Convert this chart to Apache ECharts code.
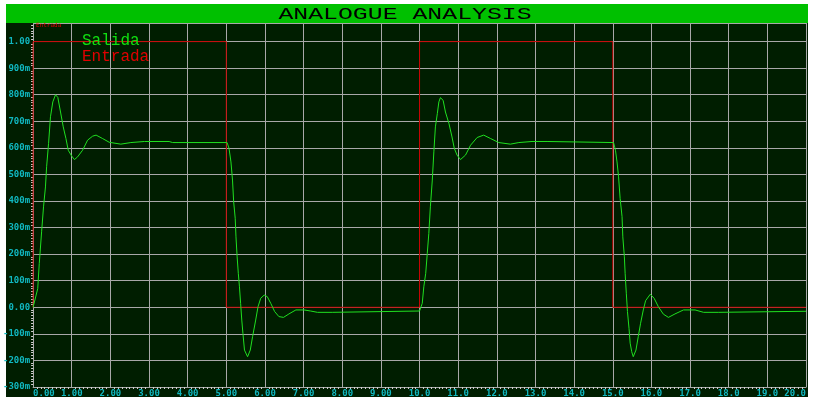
<!DOCTYPE html>
<html>
<head>
<meta charset="utf-8">
<script src="https://cdn.jsdelivr.net/npm/echarts@6/dist/echarts.min.js"></script>
<style>
  html, body { margin: 0; padding: 0; background: #fff; }
  #chart { width: 814px; height: 404px; }
</style>
</head>
<body>
<div id="chart"></div>
<script>
// Salida (output) trace
const salidaT = [
  0, 0.03, 0.12, 0.16, 0.22, 0.27, 0.32, 0.35, 0.40, 0.45, 0.51, 0.58, 0.64, 0.71, 0.78, 0.85,
  0.91, 1.00, 1.07, 1.15, 1.28, 1.41, 1.54, 1.63, 1.80, 1.97, 2.27, 2.53, 2.88, 3.52, 3.61, 5.02,
  5.07, 5.12, 5.16, 5.19, 5.23, 5.25, 5.28, 5.31, 5.34, 5.37, 5.40, 5.43, 5.47, 5.55, 5.62, 5.68,
  5.76, 5.82, 5.89, 5.98, 6.06, 6.15, 6.25, 6.36, 6.48, 6.62, 6.80, 7.01, 7.18, 7.36, 7.74, 7.79, 10.00,
  10.03, 10.07, 10.11, 10.16, 10.20, 10.24, 10.28, 10.33, 10.37, 10.41, 10.46, 10.50, 10.54, 10.61,
  10.67, 10.76, 10.84, 10.90, 10.97, 11.06, 11.19, 11.32, 11.49, 11.66, 11.84, 12.05, 12.35, 12.57,
  12.91, 13.30, 13.34, 15.02,
  15.07, 15.11, 15.15, 15.19, 15.24, 15.26, 15.30, 15.32, 15.35, 15.38, 15.42, 15.45, 15.49, 15.53,
  15.60, 15.66, 15.72, 15.79, 15.85, 15.97, 16.07, 16.18, 16.31, 16.44, 16.61, 16.83, 17.13, 17.35,
  17.73, 17.78, 20.0
]
const salidaV = [
  0, 0, 0.07, 0.165, 0.284, 0.378, 0.453, 0.529, 0.616, 0.717, 0.773, 0.80, 0.79, 0.735, 0.679, 0.635,
  0.591, 0.569, 0.556, 0.566, 0.591, 0.629, 0.644, 0.648, 0.635, 0.621, 0.614, 0.620, 0.624, 0.624, 0.620, 0.620,
  0.598, 0.547, 0.479, 0.397, 0.335, 0.265, 0.19, 0.128, 0.077, 0.015, -0.048, -0.098, -0.161, -0.186, -0.161, -0.110,
  -0.048, 0.002, 0.034, 0.046, 0.04, 0.015, -0.016, -0.035, -0.038, -0.025, -0.01, -0.01, -0.014, -0.019, -0.019, -0.015, -0.014,
  -0.014, 0.015, 0.077, 0.128, 0.203, 0.278, 0.378, 0.479, 0.585, 0.679, 0.729, 0.773, 0.789, 0.779,
  0.735, 0.692, 0.641, 0.598, 0.573, 0.556, 0.573, 0.61, 0.639, 0.648, 0.635, 0.620, 0.614, 0.620,
  0.624, 0.624, 0.620, 0.620,
  0.591, 0.547, 0.491, 0.41, 0.341, 0.265, 0.19, 0.128, 0.053, -0.016, -0.079, -0.135, -0.167, -0.186,
  -0.161, -0.11, -0.06, -0.01, 0.025, 0.049, 0.034, 0.002, -0.026, -0.038, -0.025, -0.01, -0.01, -0.019,
  -0.019, -0.015, -0.015
]

// Entrada (input) square wave
const entradaT = [0, 0, 5, 5, 10, 10, 15, 15, 20]
const entradaV = [0, 1, 1, 0, 0, 1, 1, 0, 0]

const titleText = 'ANALOGUE ANALYSIS'
const seriesNames = ['Salida', 'Entrada']

const zip = (a, b) => a.map((x, i) => [x, b[i]])

// 1.00 / 900m / 0.00 / 10.0 style labels
const fmtVal = (v) => {
  v = Math.round(v * 1000) / 1000
  if (v === 0) return '0.00'
  if (Math.abs(v) < 1) return Math.round(v * 1000) + 'm'
  return Math.abs(v) >= 10 ? v.toFixed(1) : v.toFixed(2)
}

const gridColor = '#a8a8a8'
const labelStyle = {
  color: '#10b8c0',
  fontFamily: 'DejaVu Sans Mono',
  fontSize: 9,
  fontWeight: 'bold',
}

const chart = echarts.init(document.getElementById('chart'))
chart.setOption({
  animation: false,
  backgroundColor: '#ffffff',
  graphic: [
    { type: 'rect', z: -100, shape: { x: 6, y: 4, width: 802, height: 393 }, style: { fill: '#001e00' } },
    { type: 'rect', z: 10, shape: { x: 6, y: 4, width: 802, height: 19 }, style: { fill: '#00c000' } },
    {
      type: 'text', z: 11, x: 405, y: 14, scaleX: 1.46,
      style: { text: titleText, fill: '#000', font: '17px "Liberation Mono"', align: 'center', verticalAlign: 'middle' },
    },
    {
      type: 'text', z: 11, x: 36, y: 22,
      style: { text: 'Entrada', fill: '#e00000', font: '6px "DejaVu Sans Mono"', align: 'left', verticalAlign: 'top' },
    },
  ],
  legend: {
    orient: 'vertical',
    left: 72,
    top: 28,
    itemWidth: 0,
    itemHeight: 0,
    itemGap: 0,
    icon: 'rect',
    data: [
      { name: seriesNames[0], textStyle: { color: '#10e010' } },
      { name: seriesNames[1], textStyle: { color: '#e00000' } },
    ],
    textStyle: { fontFamily: 'Liberation Mono', fontSize: 16 },
  },
  grid: { left: 32, right: 8, top: 23, bottom: 17, containLabel: false },
  xAxis: {
    type: 'value',
    min: 0,
    max: 20,
    interval: 1,
    axisLine: { show: true, onZero: false, lineStyle: { color: gridColor } },
    axisTick: { show: false },
    minorTick: { show: true, splitNumber: 10, length: 2, lineStyle: { color: '#d0d0d0' } },
    splitLine: { show: true, lineStyle: { color: gridColor, width: 1 } },
    axisLabel: { ...labelStyle, margin: 2, formatter: fmtVal, alignMinLabel: 'left', alignMaxLabel: 'right' },
  },
  yAxis: {
    type: 'value',
    min: -0.3,
    max: 1.07,
    interval: 0.1,
    axisLine: { show: true, onZero: false, lineStyle: { color: gridColor } },
    axisTick: { show: false },
    minorTick: { show: true, splitNumber: 10, length: 2, lineStyle: { color: '#d0d0d0' } },
    splitLine: { show: true, lineStyle: { color: gridColor, width: 1 } },
    axisLabel: { ...labelStyle, margin: 3, formatter: fmtVal, showMaxLabel: false },
  },
  series: [
    {
      name: seriesNames[1],
      type: 'line',
      data: zip(entradaT, entradaV),
      showSymbol: false,
      lineStyle: { color: '#c80000', width: 1 },
      itemStyle: { color: '#e00000' },
      z: 3,
    },
    {
      name: seriesNames[0],
      type: 'line',
      data: zip(salidaT, salidaV),
      showSymbol: false,
      lineStyle: { color: '#20e020', width: 1 },
      itemStyle: { color: '#10e010' },
      z: 4,
    },
  ],
})
</script>
</body>
</html>
